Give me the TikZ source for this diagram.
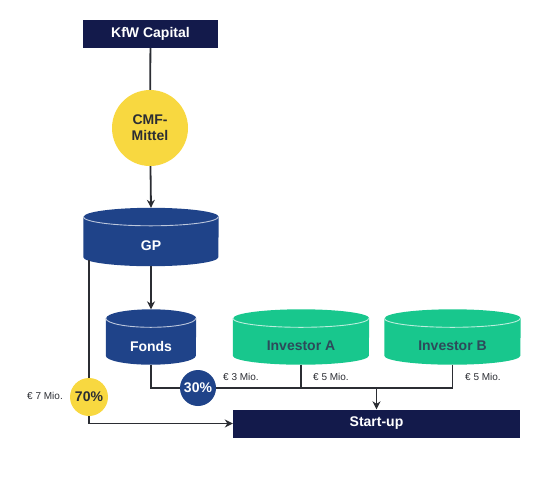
\documentclass[tikz,border=0pt]{standalone}
\usepackage{fontspec}
\setmainfont{Liberation Sans}
\usetikzlibrary{arrows.meta}

\definecolor{kfwnavy}{HTML}{131A4B}
\definecolor{kfwblue}{HTML}{1F4389}
\definecolor{kfwgreen}{HTML}{18C78D}
\definecolor{kfwyellow}{HTML}{F8D840}
\definecolor{kfwline}{HTML}{2B2D33}
\definecolor{kfwteal}{HTML}{2D4A5A}

\pgfdeclarelayer{background}
\pgfsetlayers{background,main}

\begin{document}
\begin{tikzpicture}[x=1pt, y=-1pt, >={Stealth[length=8pt,width=8pt]},
    darkbox/.style={rectangle, fill=kfwnavy, text=white, inner sep=0pt,
      font=\bfseries\fontsize{14}{16}\selectfont, minimum height=28pt},
    drum/.style={rectangle, text=white, inner sep=0pt,
      font=\bfseries\fontsize{14}{16}\selectfont},
    coin/.style={circle, fill=kfwyellow, text=kfwline, inner sep=0pt,
      font=\bfseries\fontsize{14}{16}\selectfont, align=center},
    amount/.style={text=kfwline, font=\fontsize{10}{12}\selectfont, inner sep=0pt},
    flow/.style={draw=kfwline, line width=1.8pt}]

    \useasboundingbox (0,0) rectangle (537,477);

    % Geldgeber oben
    \node [darkbox, minimum width=135pt] (kfw) at (150.5,34) {KfW Capital};
    \node [coin, minimum size=76pt] (cmf) at (150,128) {CMF-\\Mittel};
    \node [drum, minimum width=135pt, minimum height=40pt] (gp) at (151,246) {GP};

    % Fonds und Investoren
    \node [drum, minimum width=90pt, minimum height=37pt] (fonds) at (151,346) {Fonds};
    \foreach \n/\x in {A/301,B/452.5}
    \node [drum, minimum width=136pt, minimum height=37pt, text=kfwteal] (inv\n) at (\x,346) {Investor \n};

    % Zylinder hinter den Knoten
    \begin{pgfonlayer}{background}
    \foreach \n/\r/\c in {gp/67.5/kfwblue, fonds/45/kfwblue, invA/68/kfwgreen, invB/68/kfwgreen} {
      \fill [\c] ([yshift=9pt]\n.north west) -- ([yshift=9pt]\n.south west)
        arc [start angle=180, end angle=360, x radius=\r pt, y radius=9pt]
        -- ([yshift=9pt]\n.north east)
        arc [start angle=0, end angle=180, x radius=\r pt, y radius=9pt] -- cycle;
      \draw [white!70!\c, line width=0.9pt] ([yshift=9pt]\n.north west)
        arc [start angle=180, end angle=360, x radius=\r pt, y radius=9pt];
    }
    \end{pgfonlayer}

    % Start-up
    \node [darkbox, minimum width=287pt] (start) at (376.5,423.5) {Start-up};

    % Anteile
    \node [coin, minimum size=38pt] (pct70) at (89,397) {70\%};
    \node [coin, minimum size=36pt, fill=kfwblue, text=white] (pct30) at (198,388) {30\%};
    \coordinate (merge) at (start.north |- pct30);

    % Betraege
    \node [amount, anchor=east] (amt7) at (63,396) {€ 7 Mio.};
    \node [amount, anchor=west] (amt3) at (223,377) {€ 3 Mio.};
    \node [amount, anchor=west] (amt5a) at (313,377) {€ 5 Mio.};
    \node [amount, anchor=west] (amt5b) at (465,377) {€ 5 Mio.};

    % Verbindungen
    \draw [flow] (kfw) -- (cmf);
    \draw [flow, ->] (cmf) -- ([yshift=18pt]gp.north);
    \draw [flow, ->] (gp.south) -- ([yshift=18pt]fonds.north);
    \draw [flow] ([yshift=6pt]gp.south -| pct70) -- (pct70);
    \draw [flow, ->] (pct70) |- (start.west);
    \draw [flow] (fonds.south) |- (pct30);
    \draw [flow] (pct30) -- (merge);
    \foreach \n in {A,B}
    \draw [flow] (inv\n.south) |- (merge);
    \draw [flow, ->] (merge) -- (start.north);

\end{tikzpicture}
\end{document}
